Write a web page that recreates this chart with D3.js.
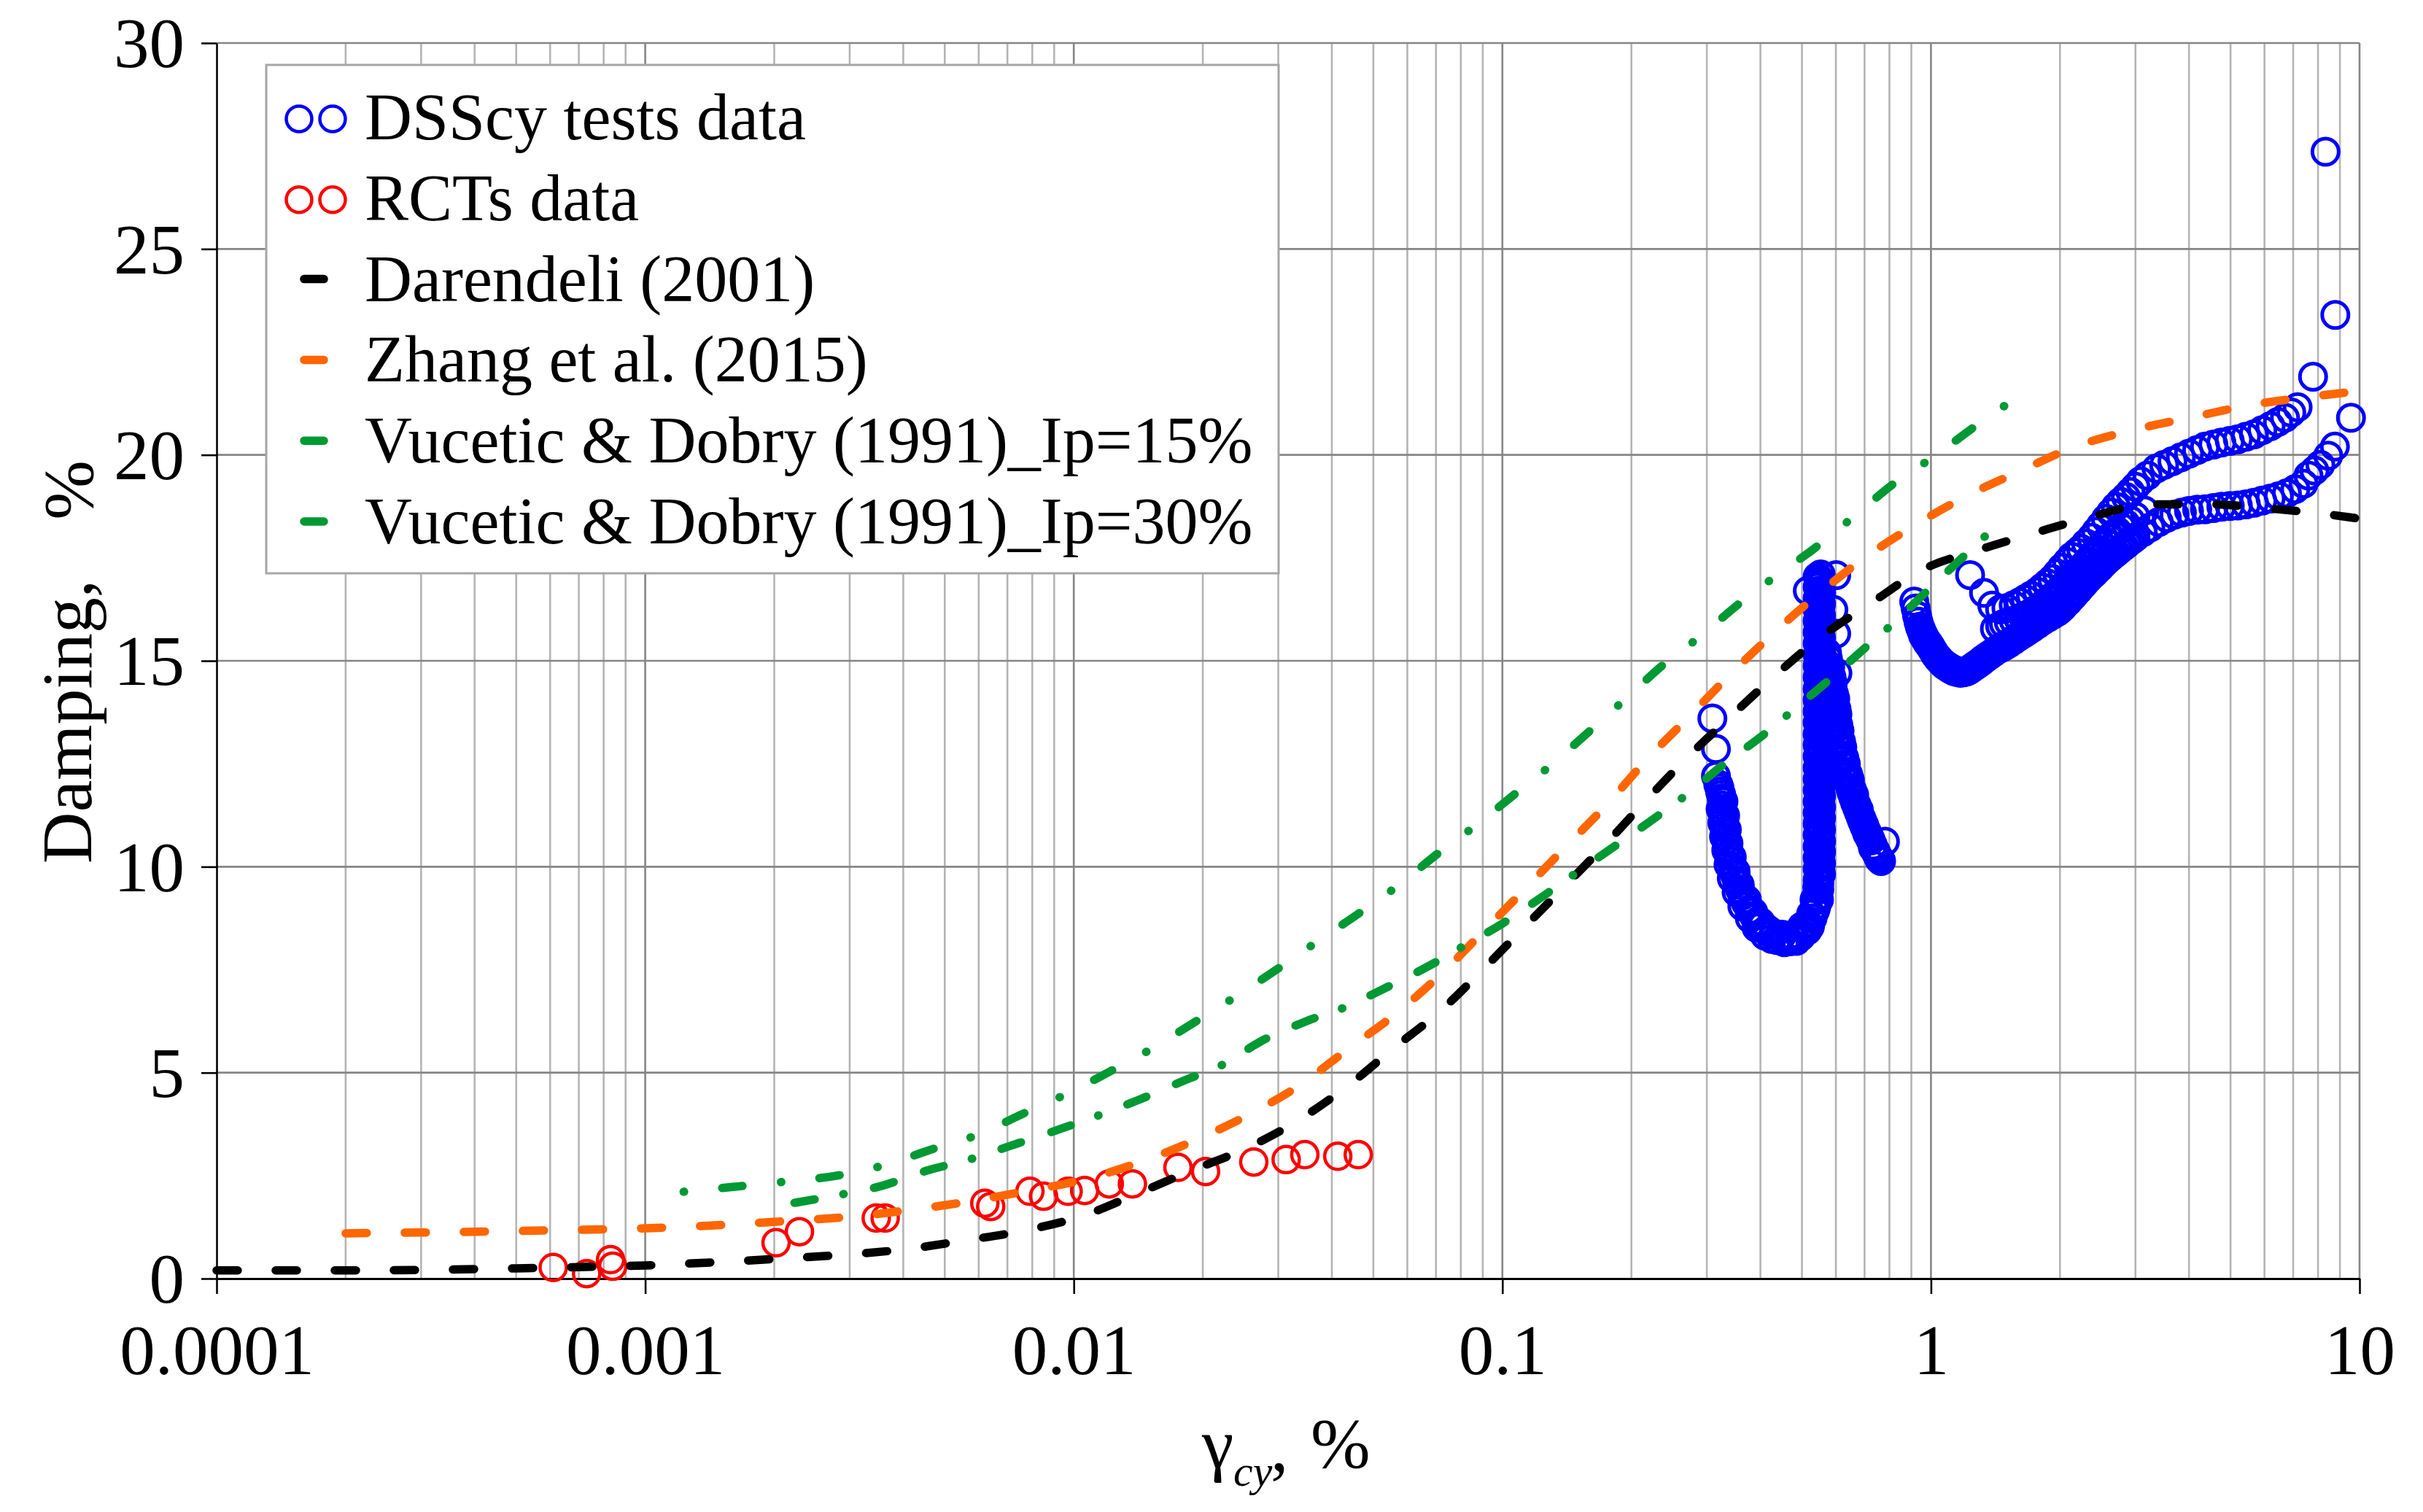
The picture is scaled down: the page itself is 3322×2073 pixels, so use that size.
<!DOCTYPE html>
<html lang="en">
<head>
<meta charset="UTF-8">
<title>Damping vs cyclic shear strain</title>
<script src="https://cdn.jsdelivr.net/npm/d3@7"></script>
<style>
  body { margin: 0; background: #fff; }
  svg { display: block; }
</style>
</head>
<body>
<svg id="chart" width="3322" height="2073"></svg>
<script>
// ---- data: [shear strain %, damping %] ----
const xTicks = [0.0001, 0.001, 0.01, 0.1, 1, 10];
const xTickLabels = ["0.0001", "0.001", "0.01", "0.1", "1", "10"];
const yTicks = [0, 5, 10, 15, 20, 25, 30];

const legendLabels = ["DSScy tests data", "RCTs data", "Darendeli (2001)", "Zhang et al. (2015)",
  "Vucetic & Dobry (1991)_Ip=15%", "Vucetic & Dobry (1991)_Ip=30%"];

const darendeli = [[0.0001,0.2],[0.0002,0.2],[0.0003,0.21],[0.0005,0.25],[0.0007,0.28],[0.001,0.32],
  [0.0016,0.42],[0.0022,0.5],[0.003,0.59],[0.0041,0.72],[0.0056,0.93],[0.0077,1.17],[0.0106,1.54],
  [0.0141,2.07],[0.0188,2.62],[0.0256,3.19],[0.0336,3.86],[0.0436,4.68],[0.056,5.61],[0.0717,6.5],
  [0.09,7.5],[0.113,8.55],[0.142,9.6],[0.176,10.6],[0.219,11.67],[0.273,12.7],[0.345,13.7],[0.439,14.7],
  [0.557,15.6],[0.725,16.4],[0.95,17.2],[1.3,17.7],[1.74,18.1],[2.37,18.5],[3.24,18.8],[4.45,18.8],
  [6.13,18.7],[8.5,18.55],[10,18.45]];

const zhang = [[0.0002,1.1],[0.0003,1.12],[0.0006,1.17],[0.00083,1.2],[0.00113,1.24],[0.00156,1.31],
  [0.00215,1.4],[0.003,1.5],[0.0041,1.66],[0.0056,1.86],[0.0077,2.12],[0.0106,2.41],[0.0143,2.83],
  [0.0192,3.36],[0.0256,3.98],[0.0337,4.7],[0.0437,5.58],[0.0564,6.43],[0.0717,7.38],[0.0893,8.38],
  [0.112,9.42],[0.141,10.5],[0.175,11.5],[0.217,12.6],[0.27,13.6],[0.339,14.65],[0.427,15.65],
  [0.543,16.6],[0.7,17.5],[0.92,18.3],[1.21,19.0],[1.61,19.6],[2.17,20.2],[2.95,20.6],[4.01,20.9],
  [5.5,21.2],[7.5,21.4],[10,21.55]];

const vd15 = [[0.001,2.02],[0.00126,2.12],[0.00162,2.23],[0.0021,2.35],[0.0028,2.5],[0.0036,2.75],
  [0.0047,3.15],[0.006,3.5],[0.0076,4.0],[0.0096,4.48],[0.0122,5.04],[0.0153,5.6],[0.0193,6.25],
  [0.0239,6.85],[0.03,7.53],[0.0372,8.2],[0.0463,8.87],[0.0574,9.56],[0.0703,10.3],[0.0866,11.0],
  [0.108,11.8],[0.131,12.5],[0.16,13.3],[0.195,14.1],[0.237,14.9],[0.29,15.6],[0.358,16.4],
  [0.44,17.1],[0.53,17.7],[0.66,18.5],[0.83,19.35],[1.02,19.97],[1.27,20.7],[1.49,21.2],[1.58,21.35]];

const vd30 = [[0.00223,1.84],[0.00286,2.04],[0.0035,2.23],[0.0046,2.64],[0.0057,2.89],[0.0071,3.22],
  [0.0094,3.65],[0.0114,3.96],[0.0141,4.33],[0.0182,4.82],[0.0223,5.2],[0.0272,5.75],[0.0353,6.27],
  [0.0432,6.6],[0.0527,7.03],[0.0676,7.6],[0.082,8.1],[0.1,8.62],[0.125,9.3],[0.151,9.9],[0.183,10.5],
  [0.228,11.2],[0.273,11.8],[0.325,12.45],[0.406,13.2],[0.483,13.85],[0.573,14.5],[0.708,15.35],
  [0.835,16.0],[0.98,16.7],[1.21,17.6],[1.36,18.1],[1.45,18.4]];

const rcts = [[0.00061,0.27],[0.00073,0.12],[0.00083,0.46],[0.00084,0.3],[0.00202,0.87],[0.00229,1.14],
  [0.00346,1.47],[0.00363,1.47],[0.0062,1.83],[0.0064,1.75],[0.0079,2.12],[0.0085,2.0],[0.0097,2.12],
  [0.0106,2.14],[0.0121,2.3],[0.0137,2.3],[0.0175,2.7],[0.0203,2.6],[0.0263,2.83],[0.0313,2.89],
  [0.0346,3.01],[0.0413,2.97],[0.0461,3.01]];

// DSS cyclic tests: first loop (0.3 - 0.8 %)
const dssDescent = [[0.309,13.6],[0.315,12.86],[0.315,12.2],[0.319,12.0],[0.322,11.83],[0.325,11.66],
  [0.326,11.49],[0.327,11.32],[0.329,11.15],[0.33,10.98],[0.331,10.82],[0.333,10.65],[0.336,10.48],
  [0.339,10.31],[0.342,10.14],[0.345,9.97],[0.349,9.8],[0.353,9.63],[0.358,9.46],[0.363,9.3],
  [0.37,9.12],[0.377,8.95],[0.386,8.81],[0.395,8.68],[0.405,8.58],[0.416,8.48],[0.43,8.38],
  [0.445,8.28],[0.46,8.25],[0.476,8.28],[0.49,8.36],[0.505,8.48],[0.518,8.6],[0.529,8.75],
  [0.536,8.92],[0.541,9.08],[0.545,9.28],[0.549,9.45],[0.35,9.85],[0.372,9.2],[0.398,8.55],
  [0.425,8.25],[0.455,8.17],[0.485,8.2],[0.515,8.45]];

const dssDescentB = [[0.321,11.92],[0.324,11.75],[0.328,11.58],[0.323,11.4],[0.331,11.24],[0.326,11.07],
  [0.334,10.9],[0.329,10.73],[0.337,10.57],[0.333,10.4],[0.343,10.23],[0.337,10.05],[0.35,9.89],
  [0.343,9.72],[0.358,9.56],[0.352,9.38],[0.37,9.22],[0.363,9.04],[0.385,8.9],[0.378,8.75],[0.4,8.66],
  [0.392,8.52],[0.418,8.42],[0.41,8.33],[0.437,8.22],[0.45,8.35],[0.468,8.19],[0.47,8.33],[0.497,8.3],
  [0.5,8.55],[0.522,8.55],[0.525,8.85],[0.539,9.0],[0.535,9.2],[0.548,9.2],[0.543,9.5]];

const dssColumn = [[0.549,9.6],[0.547,9.75],[0.551,9.88],[0.548,10.01],[0.546,10.15],[0.55,10.29],
  [0.548,10.42],[0.552,10.55],[0.547,10.7],[0.549,10.83],[0.551,10.96],[0.546,11.11],[0.55,11.24],
  [0.548,11.38],[0.552,11.5],[0.547,11.65],[0.549,11.79],[0.551,11.92],[0.546,12.06],[0.55,12.19],
  [0.548,12.34],[0.552,12.46],[0.547,12.61],[0.549,12.74],[0.551,12.87],[0.546,13.02],[0.55,13.15],
  [0.548,13.3],[0.552,13.42],[0.547,13.57],[0.549,13.7],[0.551,13.83],[0.546,13.98],[0.55,14.11],
  [0.548,14.26],[0.552,14.38],[0.547,14.53],[0.549,14.66],[0.551,14.79],[0.546,14.94],[0.55,15.07],
  [0.548,15.22],[0.552,15.34],[0.547,15.49],[0.549,15.62],[0.551,15.75],[0.546,15.9],[0.55,16.03],
  [0.548,16.18],[0.552,16.3],[0.547,16.45],[0.549,16.58],[0.551,16.71],[0.548,16.86],[0.55,16.98],
  [0.553,17.1],[0.516,16.7]];

const dssColumnB = [[0.544,9.68],[0.554,9.82],[0.544,9.95],[0.554,10.08],[0.544,10.22],[0.554,10.36],
  [0.544,10.49],[0.554,10.62],[0.544,10.77],[0.554,10.9],[0.544,11.04],[0.554,11.18],[0.544,11.31],
  [0.554,11.44],[0.544,11.58],[0.554,11.72],[0.544,11.86],[0.554,11.99],[0.544,12.13],[0.554,12.27],
  [0.544,12.4],[0.554,12.54],[0.544,12.68],[0.554,12.81],[0.544,12.95],[0.554,13.09],[0.544,13.22],
  [0.554,13.36],[0.544,13.5],[0.554,13.64],[0.544,13.77],[0.554,13.91],[0.544,14.05],[0.554,14.18],
  [0.544,14.32],[0.554,14.46],[0.544,14.6],[0.554,14.73],[0.544,14.87],[0.554,15.0],[0.544,15.15],
  [0.554,15.28],[0.544,15.42],[0.554,15.56],[0.544,15.69],[0.554,15.83],[0.544,15.97],[0.554,16.1],
  [0.544,16.24],[0.554,16.38],[0.544,16.52],[0.554,16.65],[0.544,16.79],[0.554,16.92],[0.544,17.04]];

const dssReturn = [[0.601,17.08],[0.592,16.24],[0.601,15.66],[0.605,14.7],[0.572,15.2],[0.575,15.05],
  [0.577,14.9],[0.58,14.78],[0.583,14.65],[0.585,14.52],[0.588,14.4],[0.59,14.27],[0.592,14.14],
  [0.594,14.02],[0.597,13.9],[0.599,13.76],[0.6,13.63],[0.602,13.5],[0.604,13.37],[0.607,13.24],
  [0.61,13.1],[0.612,12.97],[0.615,12.84],[0.619,12.7],[0.623,12.57],[0.628,12.44],[0.633,12.3],
  [0.638,12.17],[0.643,12.04],[0.648,11.92],[0.653,11.8],[0.659,11.68],[0.665,11.56],[0.672,11.44],
  [0.679,11.32],[0.686,11.2],[0.693,11.08],[0.7,10.97],[0.708,10.86],[0.716,10.75],[0.724,10.64],
  [0.732,10.52],[0.741,10.4],[0.75,10.28],[0.758,10.18],[0.765,10.14],[0.781,10.61]];

const dssReturnB = [[0.582,14.85],[0.586,14.6],[0.59,14.46],[0.594,14.2],[0.598,14.08],[0.602,13.83],
  [0.605,13.7],[0.608,13.44],[0.612,13.3],[0.617,13.04],[0.621,12.9],[0.628,12.64],[0.633,12.5],
  [0.641,12.24],[0.647,12.1],[0.655,11.86],[0.662,11.74],[0.671,11.5],[0.679,11.38],[0.69,11.14],
  [0.698,11.02],[0.71,10.8],[0.72,10.69],[0.732,10.46],[0.745,10.34],[0.755,10.22]];

// DSS cyclic tests: second loop (0.9 - 10 %)
const dssLower = [[0.914,16.44],[0.928,16.1],[0.942,15.83],[0.953,15.7],[0.963,15.6],[0.975,15.5],
  [0.988,15.42],[1.0,15.33],[1.015,15.22],[1.03,15.12],[1.045,15.05],[1.06,14.98],[1.075,14.92],
  [1.09,14.88],[1.105,14.84],[1.12,14.8],[1.14,14.77],[1.16,14.74],[1.18,14.73],[1.2,14.75],
  [1.22,14.77],[1.24,14.82],[1.26,14.87],[1.28,14.92],[1.3,14.97],[1.32,15.03],[1.35,15.1],
  [1.38,15.17],[1.41,15.24],[1.44,15.3],[1.47,15.35],[1.5,15.4],[1.54,15.48],[1.58,15.56],
  [1.62,15.64],[1.66,15.7],[1.7,15.77],[1.75,15.86],[1.8,15.95],[1.85,16.04],[1.9,16.1],
  [1.95,16.17],[2.0,16.24],[2.06,16.38],[2.12,16.52],[2.18,16.66],[2.24,16.8],[2.3,16.93],
  [2.37,17.07],[2.44,17.2],[2.51,17.33],[2.58,17.45],[2.66,17.57],[2.74,17.68],[2.82,17.78],
  [2.91,17.9],[3.0,18.0]];

const dssLowerB = [[0.921,16.27],[0.935,15.95],[0.948,15.76],[0.958,15.62],[0.969,15.53],[0.981,15.44],
  [0.994,15.36],[1.008,15.26],[1.022,15.15],[1.037,15.06],[1.052,14.99],[1.067,14.92],[1.082,14.87],
  [1.097,14.83],[1.112,14.79],[1.13,14.75],[1.15,14.73],[1.17,14.71],[1.19,14.72],[1.21,14.74],
  [1.23,14.78],[1.25,14.83],[1.27,14.88],[1.29,14.93],[1.31,14.98],[1.335,15.05],[1.365,15.12],
  [1.395,15.19],[1.425,15.26],[1.455,15.31],[1.485,15.36],[1.52,15.42],[1.56,15.5],[1.6,15.58],
  [1.64,15.65],[1.68,15.72],[1.725,15.8],[1.775,15.89],[1.825,15.98],[1.875,16.05],[1.925,16.12],
  [1.975,16.19],[2.03,16.3],[2.09,16.44],[2.15,16.58],[2.21,16.72],[2.27,16.86],[2.335,17.0],
  [2.405,17.13],[2.475,17.26],[2.545,17.39],[2.62,17.51],[2.7,17.62],[2.78,17.73],[2.865,17.84],
  [2.955,17.95]];

const dssFill = [[1.45,15.85],[1.52,15.93],[1.6,16.02],[1.68,16.12],[1.76,16.25],[1.84,16.4],
  [1.92,16.56],[2.0,16.73],[2.08,16.9],[2.16,17.08],[2.24,17.25],[2.32,17.42],[2.4,17.6],[2.5,17.8],
  [2.6,17.98],[2.72,18.15],[2.85,18.32],[3.0,18.5],[3.15,18.65],[1.41,15.78],[1.48,15.9],[1.56,15.98],
  [1.64,16.07],[1.72,16.18],[1.8,16.32],[1.88,16.48],[1.96,16.64],[2.04,16.82],[2.12,16.99],
  [2.2,17.16],[2.28,17.33],[2.36,17.51],[2.45,17.7],[2.55,17.89],[2.66,18.07],[2.78,18.24],[2.92,18.41]];

const dssUpper = [[1.234,17.08],[1.33,16.65],[1.39,16.34],[1.45,16.25],[1.5,16.28],[1.56,16.35],
  [1.61,16.42],[1.66,16.5],[1.71,16.58],[1.77,16.68],[1.82,16.78],[1.87,16.88],[1.92,16.99],
  [1.97,17.12],[2.02,17.26],[2.08,17.4],[2.13,17.53],[2.19,17.63],[2.24,17.72],[2.3,17.85],
  [2.37,17.99],[2.43,18.14],[2.49,18.28],[2.56,18.45],[2.63,18.6],[2.7,18.74],[2.77,18.86],
  [2.85,18.98],[2.92,19.1],[3.0,19.23],[3.08,19.36],[3.2,19.5],[3.36,19.67],[3.5,19.76],
  [3.66,19.85],[3.83,19.94],[4.0,20.03],[4.18,20.12],[4.36,20.2],[4.56,20.25],[4.76,20.3],
  [4.98,20.34],[5.2,20.38],[5.43,20.44],[5.67,20.5],[5.93,20.6],[6.2,20.7],[6.45,20.8],
  [6.7,20.9],[6.93,21.03],[7.17,21.16],[7.79,21.9],[8.33,27.36],[8.78,23.4]];

const dssTail = [[3.12,18.12],[3.25,18.24],[3.4,18.37],[3.55,18.47],[3.7,18.55],[3.85,18.6],
  [4.0,18.64],[4.18,18.67],[4.36,18.68],[4.56,18.71],[4.76,18.74],[4.98,18.76],[5.2,18.77],
  [5.43,18.8],[5.67,18.84],[5.93,18.89],[6.2,18.94],[6.48,19.0],[6.77,19.07],[7.08,19.17],
  [7.4,19.3],[7.6,19.5],[7.85,19.62],[8.1,19.76],[8.45,19.98],[8.76,20.2],[9.55,20.9]];

// ---- chart ----
const FONT = "'Liberation Serif', 'Times New Roman', serif";
const svg = d3.select("#chart");
svg.append("rect").attr("width", 3322).attr("height", 2073).attr("fill", "#fff");

const x = d3.scaleLog().domain([1e-4, 10]).range([297, 3235]);
const y = d3.scaleLinear().domain([0, 30]).range([1753, 59]);

const isDecade = d => Math.abs(Math.log10(d) - Math.round(Math.log10(d))) < 1e-9;

// gridlines
const grid = svg.append("g");
const vTicks = x.ticks().filter(d => d > 1e-4 * 1.0001);
grid.selectAll("line.minor").data(vTicks.filter(d => !isDecade(d))).join("line")
  .attr("x1", d => x(d)).attr("x2", d => x(d)).attr("y1", y(0)).attr("y2", y(30))
  .attr("stroke", "#b4b4b4").attr("stroke-width", 2.6);
grid.selectAll("line.hmaj").data(yTicks.filter(d => d > 0)).join("line")
  .attr("x1", x(1e-4)).attr("x2", x(10)).attr("y1", d => y(d)).attr("y2", d => y(d))
  .attr("stroke", "#868686").attr("stroke-width", 2.6);
grid.selectAll("line.vmaj").data(vTicks.filter(isDecade)).join("line")
  .attr("x1", d => x(d)).attr("x2", d => x(d)).attr("y1", y(0)).attr("y2", y(30))
  .attr("stroke", "#868686").attr("stroke-width", 2.6);

// axes
const gx = svg.append("g").attr("transform", `translate(0,${y(0)})`)
  .call(d3.axisBottom(x).tickValues(xTicks).tickFormat((d, i) => xTickLabels[i]).tickSize(21).tickSizeOuter(0));
gx.select(".domain").attr("stroke", "#000").attr("stroke-width", 3.2);
gx.selectAll(".tick line").attr("stroke", "#000").attr("stroke-width", 2.6);
gx.selectAll("text").attr("y", 131).attr("dy", "0").attr("fill", "#000")
  .attr("font-family", FONT).attr("font-size", 97);

const gy = svg.append("g").attr("transform", `translate(${x(1e-4)},0)`)
  .call(d3.axisLeft(y).tickValues(yTicks).tickSize(21).tickSizeOuter(0));
gy.select(".domain").attr("stroke", "#000").attr("stroke-width", 2.6);
gy.selectAll(".tick line").attr("stroke", "#000").attr("stroke-width", 2.6);
gy.selectAll("text").attr("x", -44).attr("dy", "0.34em").attr("fill", "#000")
  .attr("font-family", FONT).attr("font-size", 97);

// axis titles
svg.append("text").attr("transform", "translate(125,1184) rotate(-90)")
  .attr("font-family", FONT).attr("font-size", 98).text("Damping,");
svg.append("text").attr("transform", "translate(127,672) rotate(-90)")
  .attr("text-anchor", "middle").attr("font-family", FONT).attr("font-size", 98).text("%");

const xt = svg.append("text").attr("font-family", FONT).attr("font-size", 98);
xt.append("tspan").attr("x", 1648).attr("y", 2012).text("γ");
xt.append("tspan").attr("x", 1691).attr("y", 2037).attr("font-style", "italic").attr("font-size", 60).text("cy");
xt.append("tspan").attr("x", 1742).attr("y", 2016).text(",");
xt.append("tspan").attr("x", 1797).attr("y", 2012).text("%");

// markers
const dssAll = [dssDescent, dssDescentB, dssColumn, dssColumnB, dssReturn, dssReturnB,
  dssLower, dssLowerB, dssFill, dssUpper, dssTail];
const gd = svg.append("g");
dssAll.forEach(set => {
  gd.append("g").selectAll("circle").data(set).join("circle")
    .attr("cx", d => x(d[0])).attr("cy", d => y(d[1])).attr("r", 18)
    .attr("fill", "none").attr("stroke", "#0000ff").attr("stroke-width", 5);
});
svg.append("g").selectAll("circle").data(rcts).join("circle")
  .attr("cx", d => x(d[0])).attr("cy", d => y(d[1])).attr("r", 18)
  .attr("fill", "none").attr("stroke", "#ff0000").attr("stroke-width", 4.5);

// curves
const lineGen = d3.line().x(d => x(d[0])).y(d => y(d[1])).curve(d3.curveMonotoneX);
const curves = [
  { data: darendeli, color: "#000000", dash: "29,52", offset: 0 },
  { data: zhang, color: "#ff6600", dash: "29,52", offset: 0 },
  { data: vd15, color: "#009933", dash: "28,53,0.5,52.5", offset: 28 },
  { data: vd30, color: "#009933", dash: "28,44,28,40,0.5,42.5", offset: 72 }
];
curves.forEach(c => {
  svg.append("path").datum(c.data).attr("d", lineGen)
    .attr("fill", "none").attr("stroke", c.color).attr("stroke-width", 11.5)
    .attr("stroke-linecap", "round").attr("stroke-dasharray", c.dash)
    .attr("stroke-dashoffset", c.offset);
});

// legend
const lg = svg.append("g");
lg.append("rect").attr("x", 365).attr("y", 89).attr("width", 1388).attr("height", 697)
  .attr("fill", "#fff").attr("stroke", "#a6a6a6").attr("stroke-width", 3);
const legendMarks = [
  { type: "circle", color: "#0000ff" }, { type: "circle", color: "#ff0000" },
  { type: "line", color: "#000000" }, { type: "line", color: "#ff6600" },
  { type: "line", color: "#009933" }, { type: "line", color: "#009933" }
];
legendLabels.forEach((label, i) => {
  const base = 191 + i * 110.8;
  const m = legendMarks[i];
  if (m.type === "circle") {
    [410, 456].forEach(cx => lg.append("circle").attr("cx", cx).attr("cy", base - 28).attr("r", 17.5)
      .attr("fill", "none").attr("stroke", m.color).attr("stroke-width", 4.5));
  } else {
    lg.append("line").attr("x1", 417).attr("x2", 444).attr("y1", base - 30).attr("y2", base - 30)
      .attr("stroke", m.color).attr("stroke-width", 11.5).attr("stroke-linecap", "round");
  }
  lg.append("text").attr("x", 500).attr("y", base).attr("font-family", FONT)
    .attr("font-size", 90).text(label);
});
</script>
</body>
</html>
